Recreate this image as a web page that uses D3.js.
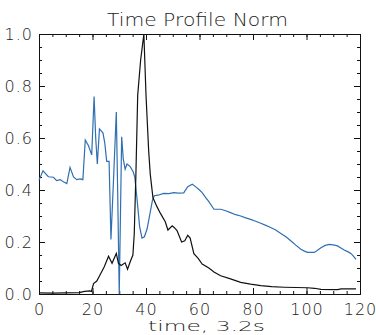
<!DOCTYPE html>
<html>
<head>
<meta charset="utf-8">
<script src="https://cdn.jsdelivr.net/npm/d3@7"></script>
<style>
  body { margin: 0; background: #fff; }
  svg text { font-family: "DejaVu Sans", sans-serif; fill: #222; }
</style>
</head>
<body>
<svg id="plotSvg" width="376" height="335"></svg>
<script>
// chart data
var title = "Time Profile Norm";
var xLabel = "time, 3.2s";
var xTicks = [0, 20, 40, 60, 80, 100, 120];
var yTicks = [0.0, 0.2, 0.4, 0.6, 0.8, 1.0];

var blueTime = [0, 1.5, 3.5, 5.4, 6.6, 7.9, 9.1, 10.4, 11.6, 12.9, 14.1, 15.4, 16.4, 17.3, 18.5, 19.7,
    20.6, 21.2, 21.8, 22.6, 23.9, 24.6, 25.3, 26.2, 26.9, 27.9, 28.9, 29.4, 30.0, 30.9, 31.5, 32.2,
    32.9, 34.1, 35.2, 35.8, 36.7, 37.6, 38.5, 39.4, 40.4, 41.5, 42.4, 43.1, 44.5, 46.6, 48.5, 50.4,
    52, 54.1, 55.6, 57.3, 58.5, 60, 61, 62.4, 63.5, 65.4, 67.9, 69.8, 71.6, 73.5, 75.4, 77.3, 79.1,
    81, 82.9, 84.8, 86.6, 88.5, 90.4, 92.3, 94.1, 96, 97.9, 99.2, 100.4, 102.9, 104, 105.4, 107,
    108.5, 110, 111.6, 113, 114.1, 115.4, 116.6, 117.6, 118.5];
var blueValue = [0.438, 0.474, 0.451, 0.449, 0.436, 0.44, 0.432, 0.425, 0.487, 0.45, 0.44, 0.443, 0.44, 0.592, 0.57, 0.535,
    0.76, 0.6, 0.5, 0.635, 0.62, 0.58, 0.51, 0.51, 0.21, 0.45, 0.70, 0.4, 0.0, 0.605, 0.52, 0.48,
    0.5, 0.49, 0.47, 0.45, 0.36, 0.26, 0.215, 0.22, 0.25, 0.31, 0.36, 0.378, 0.38, 0.387, 0.386, 0.39,
    0.388, 0.389, 0.413, 0.422, 0.413, 0.40, 0.39, 0.37, 0.355, 0.326, 0.326, 0.32, 0.313, 0.305, 0.3, 0.293, 0.287,
    0.28, 0.272, 0.264, 0.256, 0.246, 0.233, 0.22, 0.205, 0.188, 0.172, 0.165, 0.16, 0.16, 0.167, 0.178, 0.187,
    0.191, 0.189, 0.185, 0.176, 0.169, 0.163, 0.156, 0.145, 0.133];

var blackTime = [0, 5, 10, 15, 17, 19, 19.6, 20.4, 21.6, 22.9, 24.4, 26, 27.3, 28.9, 29.7, 30.7, 32.2,
    33.1, 34.1, 35.1, 35.6, 36.2, 36.9, 38, 39.2, 40, 41, 41.6, 42.6, 44.1, 45.4, 47.2, 48.2, 49.8,
    50.6, 51.6, 53.3, 54.5, 55.6, 56.5, 57.9, 59.5, 61, 63.5, 65.4, 67.9, 71.6, 75.4, 79.1, 82.9,
    87, 91.6, 96, 100.4, 103, 105.4, 111.6, 113, 118.5];
var blackValue = [0.004, 0.003, 0.004, 0.005, 0.01, 0.012, 0.01, 0.04, 0.05, 0.075, 0.105, 0.145, 0.118, 0.156, 0.118, 0.11, 0.12,
    0.095, 0.124, 0.15, 0.23, 0.45, 0.765, 0.9, 1.0, 0.765, 0.55, 0.46, 0.37, 0.336, 0.31, 0.278, 0.246, 0.262,
    0.255, 0.244, 0.2, 0.205, 0.226, 0.215, 0.155, 0.137, 0.115, 0.1, 0.085, 0.07, 0.058, 0.045, 0.038, 0.032,
    0.028, 0.026, 0.025, 0.024, 0.022, 0.018, 0.017, 0.02, 0.02];

var margin = { top: 34, right: 16, bottom: 41, left: 39 };
var svg = d3.select("#plotSvg");
var width = 376 - margin.left - margin.right;
var height = 335 - margin.top - margin.bottom;

var g = svg.append("g").attr("transform", "translate(" + margin.left + "," + margin.top + ")");

var x = d3.scaleLinear().domain([0, 120]).range([0, width]);
var y = d3.scaleLinear().domain([0, 1]).range([height, 0]);

// minor ticks first, every 5 in x and 0.05 in y
var xMinor = d3.range(0, 121, 5);
var yMinor = d3.range(0, 21).map(function (i) { return i * 0.05; });

function minor(axis) {
    return axis.tickSize(-3).tickSizeOuter(0).tickFormat("");
}
g.append("g").attr("transform", "translate(0," + height + ")")
    .call(minor(d3.axisBottom(x).tickValues(xMinor)));
g.append("g").call(minor(d3.axisTop(x).tickValues(xMinor)));
g.append("g").call(minor(d3.axisLeft(y).tickValues(yMinor)));
g.append("g").attr("transform", "translate(" + width + ",0)")
    .call(minor(d3.axisRight(y).tickValues(yMinor)));

// major ticks
g.append("g").attr("class", "xaxis").attr("transform", "translate(0," + height + ")")
    .call(d3.axisBottom(x).tickValues(xTicks).tickSize(-6).tickSizeOuter(0).tickPadding(10)
        .tickFormat(d3.format("d")));
g.append("g").call(d3.axisTop(x).tickValues(xTicks).tickSize(-6).tickSizeOuter(0).tickFormat(""));
g.append("g").attr("class", "yaxis")
    .call(d3.axisLeft(y).tickValues(yTicks).tickSize(-6).tickSizeOuter(0).tickPadding(6)
        .tickFormat(d3.format(".1f")));
g.append("g").attr("transform", "translate(" + width + ",0)")
    .call(d3.axisRight(y).tickValues(yTicks).tickSize(-6).tickSizeOuter(0).tickFormat(""));

g.selectAll(".domain").attr("stroke", "#111");
g.selectAll(".tick line").attr("stroke", "#111");
g.selectAll(".xaxis text, .yaxis text")
    .attr("font-size", 16)
    .attr("font-family", "DejaVu Sans")
    .attr("font-weight", 200)
    .attr("fill", "#222")
    .attr("letter-spacing", "1px");

var line = d3.line()
    .x(function (d) { return x(d[0]); })
    .y(function (d) { return y(d[1]); });

var blue = blueTime.map(function (t, i) { return [t, blueValue[i]]; });
var black = blackTime.map(function (t, i) { return [t, blackValue[i]]; });

g.append("path").datum(blue)
    .attr("d", line)
    .attr("fill", "none")
    .attr("stroke", "#2f6fb2")
    .attr("stroke-width", 1.2);

g.append("path").datum(black)
    .attr("d", line)
    .attr("fill", "none")
    .attr("stroke", "#111")
    .attr("stroke-width", 1.2);

svg.append("text")
    .attr("x", 197.5)
    .attr("y", 26)
    .attr("text-anchor", "middle")
    .attr("font-size", 17)
    .attr("font-weight", 200)
    .attr("textLength", 181)
    .attr("lengthAdjust", "spacingAndGlyphs")
    .text(title);

svg.append("text")
    .attr("x", 206.5)
    .attr("y", 331)
    .attr("text-anchor", "middle")
    .attr("font-size", 14)
    .attr("font-weight", 200)
    .attr("textLength", 117)
    .attr("lengthAdjust", "spacingAndGlyphs")
    .text(xLabel);
</script>
</body>
</html>
